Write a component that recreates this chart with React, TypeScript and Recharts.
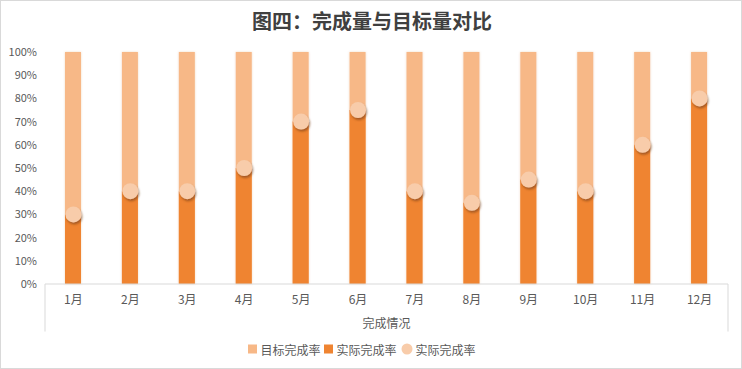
import React from 'react';
import { ComposedChart, Bar, Line, XAxis, YAxis, Legend, ReferenceLine } from 'recharts';

const months = ['1月', '2月', '3月', '4月', '5月', '6月', '7月', '8月', '9月', '10月', '11月', '12月'];
const targetRate = [1, 1, 1, 1, 1, 1, 1, 1, 1, 1, 1, 1];
const actualRate = [0.3, 0.4, 0.4, 0.5, 0.7, 0.75, 0.4, 0.35, 0.45, 0.4, 0.6, 0.8];
const yTicks = [0, 0.1, 0.2, 0.3, 0.4, 0.5, 0.6, 0.7, 0.8, 0.9, 1];

const title = '图四：完成量与目标量对比';
const xTitle = '完成情况';
const seriesNames = { target: '目标完成率', actual: '实际完成率', dot: '实际完成率' };
const legendOrder = ['target', 'actual', 'dot'];

const C_TARGET = '#F7B887';
const C_ACTUAL = '#EF8431';
const C_DOT = '#F8CCAA';
const TEXT = '#595959';
const FONT = '"Noto Sans CJK SC", "Noto Sans", sans-serif';

const data = months.map((m, i) => ({
  month: m,
  target: targetRate[i],
  actual: actualRate[i],
  dot: actualRate[i],
}));

const frameEnd = months.length - 1;

const legendColors: Record<string, string> = {
  target: C_TARGET,
  actual: C_ACTUAL,
  dot: C_DOT,
};

const LegendContent = (props: any) => {
  const payload = [...(props.payload || [])].sort(
    (a: any, b: any) => legendOrder.indexOf(a.dataKey) - legendOrder.indexOf(b.dataKey)
  );
  return (
    <div style={{ display: 'flex', justifyContent: 'center', alignItems: 'center', height: 20, fontFamily: FONT, fontSize: 12, color: TEXT }}>
      {payload.map((e: any, i: number) => {
        const key = e.dataKey as string;
        const col = legendColors[key] || e.color;
        const isCircle = e.type === 'circle';
        return (
          <div key={i} style={{ display: 'flex', alignItems: 'center', marginRight: 4 }}>
            <svg width={isCircle ? 12 : 9} height={12} style={{ marginRight: 3 }}>
              {isCircle ? (
                <circle cx={6} cy={6} r={5.5} fill={col} />
              ) : (
                <rect x={0} y={1.5} width={9} height={9} fill={col} />
              )}
            </svg>
            <span>{e.value}</span>
          </div>
        );
      })}
    </div>
  );
};

export default function App() {
  return (
    <div
      style={{
        position: 'absolute',
        left: 0,
        top: 0,
        width: 742,
        height: 369,
        border: '1px solid #d9d9d9',
        boxSizing: 'border-box',
        background: '#fff',
        overflow: 'hidden',
      }}
    >
      <div
        style={{
          position: 'absolute',
          left: 0,
          top: 5,
          width: 742,
          textAlign: 'center',
          fontFamily: FONT,
          fontWeight: 'bold',
          fontSize: 20,
          lineHeight: '30px',
          color: '#404040',
        }}
      >
        {title}
      </div>
      <div style={{ position: 'absolute', left: -1, top: -1 }}>
        <ComposedChart
          width={742}
          height={369}
          data={data}
          margin={{ top: 52, right: 14, left: 0, bottom: 10 }}
          barGap={-16}
        >
          <defs>
            <filter id="dotShadow" x="-50%" y="-50%" width="200%" height="200%">
              <feDropShadow dx="1" dy="2" stdDeviation="1.3" floodColor="#6b3510" floodOpacity="0.55" />
            </filter>
            <filter id="barGlow" x="-30%" y="-5%" width="160%" height="110%">
              <feDropShadow dx="0" dy="0" stdDeviation="1" floodColor="#c86a20" floodOpacity="0.25" />
            </filter>
          </defs>
          <XAxis
            dataKey="month"
            axisLine={{ stroke: '#d9d9d9' }}
            tickLine={false}
            tickMargin={5}
            tick={{ fontSize: 12, fill: TEXT, fontFamily: FONT }}
            height={55}
            interval={0}
            label={{ value: xTitle, position: 'insideBottom', offset: 11, fontSize: 12, fill: TEXT, fontFamily: FONT }}
          />
          <XAxis xAxisId="frame" type="number" domain={[0, frameEnd]} allowDataOverflow hide />
          <YAxis
            width={45}
            domain={[0, 1]}
            ticks={yTicks}
            axisLine={false}
            tickLine={false}
            tickFormatter={(v: number) => `${Math.round(v * 100)}%`}
            tick={{ fontSize: 11, fill: TEXT, fontFamily: FONT }}
          />
          <ReferenceLine
            xAxisId="frame"
            segment={[{ x: 0, y: 0 }, { x: 0, y: -0.205 }]}
            ifOverflow="visible"
            stroke="#d9d9d9"
          />
          <ReferenceLine
            xAxisId="frame"
            segment={[{ x: frameEnd, y: 0 }, { x: frameEnd, y: -0.205 }]}
            ifOverflow="visible"
            stroke="#d9d9d9"
          />
          <Bar dataKey="target" name={seriesNames.target} fill={C_TARGET} barSize={16} isAnimationActive={false} legendType="square" filter="url(#barGlow)" />
          <Bar dataKey="actual" name={seriesNames.actual} fill={C_ACTUAL} barSize={16} isAnimationActive={false} legendType="square" />
          <Line
            dataKey="dot"
            name={seriesNames.dot}
            stroke="none"
            legendType="circle"
            dot={{ r: 8, fill: C_DOT, stroke: 'none', filter: 'url(#dotShadow)' }}
            activeDot={false}
            isAnimationActive={false}
          />
          <Legend verticalAlign="bottom" content={<LegendContent />} wrapperStyle={{ height: 20 }} />
        </ComposedChart>
      </div>
    </div>
  );
}
